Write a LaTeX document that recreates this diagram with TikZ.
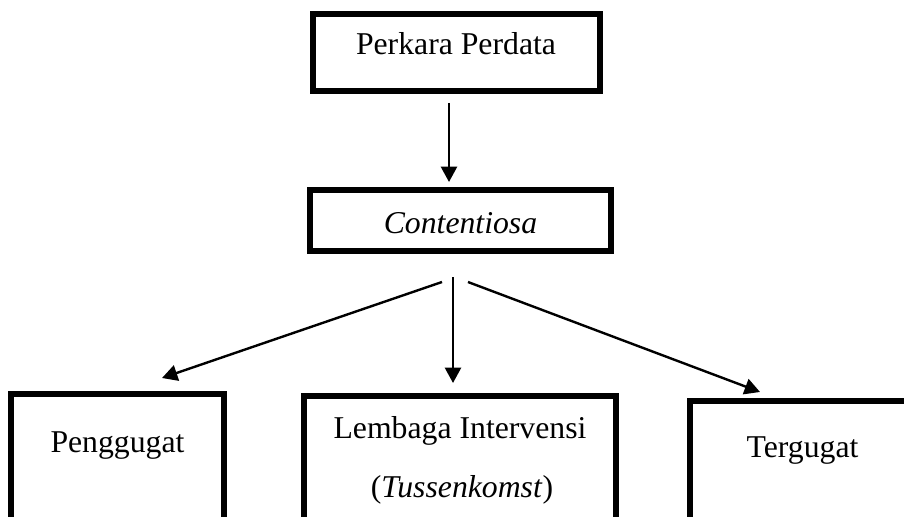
\documentclass[tikz,border=0pt]{standalone}
\usepackage{fontspec}
\setmainfont{Liberation Serif}
\usetikzlibrary{arrows.meta}
\begin{document}
\begin{tikzpicture}[x=0.75pt,y=-0.75pt,
  boxstyle/.style={draw=black,line width=3.9pt,inner sep=0pt,outer sep=0pt},
  lbl/.style={font=\fontsize{23.8pt}{28pt}\selectfont,anchor=base,inner sep=0pt},
  arr/.style={line width=1.8pt,-{Triangle[length=11.5pt,width=12pt]}}]
\useasboundingbox (0,0) rectangle (904,517);
\clip (0,0) rectangle (904,517);
% boxes
\node[boxstyle,minimum width=287*0.75pt,minimum height=77*0.75pt] (top) at (456.5,52.5) {};
\node[boxstyle,minimum width=301*0.75pt,minimum height=61*0.75pt] (mid) at (460.5,220.5) {};
\node[boxstyle,minimum width=213*0.75pt,minimum height=200*0.75pt] (left) at (117.5,494) {};
\node[boxstyle,minimum width=312*0.75pt,minimum height=200*0.75pt] (center) at (460,496) {};
\node[boxstyle,minimum width=300*0.75pt,minimum height=200*0.75pt] (right) at (840,501) {};
% texts
\node[lbl] (t1) at (456,55) {Perkara Perdata};
\node[lbl] (t2) at (460.5,233) {\itshape Contentiosa};
\node[lbl] (t3) at (117.5,452) {Penggugat};
\node[lbl] (t4) at (460,438) {Lembaga Intervensi};
\node[lbl] (t5) at (462,497) {(\textit{Tussenkomst})};
\node[lbl] (t6) at (802.5,457) {Tergugat};
% connector endpoints
\coordinate (a1) at (449,103);
\coordinate (a2) at (449,182);
\coordinate (c0) at (453,277);
\coordinate (c1) at (453,383);
\coordinate (l0) at (442,282);
\coordinate (l1) at (162,378);
\coordinate (r0) at (468,282);
\coordinate (r1) at (760,392);
\draw[arr] (a1) -- (a2);
\draw[arr] (c0) -- (c1);
\draw[arr] (l0) -- (l1);
\draw[arr] (r0) -- (r1);
\end{tikzpicture}
\end{document}
